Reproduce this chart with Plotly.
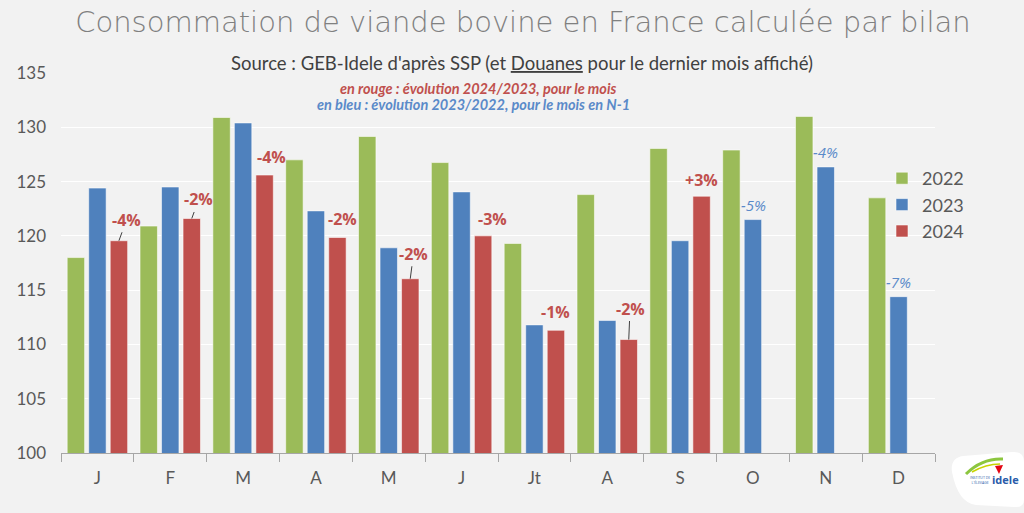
import plotly.graph_objects as go

# ---------------- data ----------------
month_ids = ["jan", "feb", "mar", "apr", "may", "jun", "jul", "aug", "sep", "oct", "nov", "dec"]
month_labels = ["J", "F", "M", "A", "M", "J", "Jt", "A", "S", "O", "N", "D"]
vals_2022 = [118.0, 120.9, 130.9, 127.0, 129.15, 126.75, 119.3, 123.8, 128.05, 127.9, 131.0, 123.5]
vals_2023 = [124.4, 124.5, 130.4, 122.3, 118.9, 124.05, 111.8, 112.2, 119.55, 121.5, 126.35, 114.4]
vals_2024 = [119.55, 121.6, 125.6, 119.85, 116.05, 120.0, 111.3, 110.45, 123.65, None, None, None]
evo_2024 = ["-4%", "-2%", "-4%", "-2%", "-2%", "-3%", "-1%", "-2%", "+3%", None, None, None]
evo_2023 = [None, None, None, None, None, None, None, None, None, "-5%", "-4%", "-7%"]
series_names = ["2022", "2023", "2024"]

# ---------------- styles / layout helpers ----------------
W, H = 1024, 513
L, R, T, B = 61, 89, 73, 60
PW, PH = W - L - R, H - T - B
colors = ["#9bbb59", "#4f81bd", "#c0504d"]
red_txt = "#c0504d"
blue_txt = "#5a8ac9"
bg = "#f2f2f2"
FONT = "Lato"


def px(xp):
    return (xp - L) / PW


def py(yp):
    return (H - B - yp) / PH


def pth(points):
    out = []
    for p in points:
        if isinstance(p, str):
            out.append(p)
        else:
            out.append("{:.5f},{:.5f}".format(px(p[0]), py(p[1])))
    return " ".join(out)


# label offsets (pixels) relative to top of the bar: (dx, dy, leader line?)
red_offsets = [(7.7, -21, True), (7, -19, True), (7.4, -18, False), (5, -18, False),
               (3.3, -25, True), (9.4, -17, False), (0, -18, False), (1.3, -31, True),
               (0.4, -16, False)]
blue_offsets = [(1, -15), (0, -15), (0, -15)]
slot = 21.5  # px between grouped bar centers

fig = go.Figure()
for name, vals, col in zip(series_names, [vals_2022, vals_2023, vals_2024], colors):
    fig.add_trace(go.Bar(
        x=month_ids, y=vals, name=name, legendgroup=name,
        marker=dict(color=col, line=dict(color="rgba(255,255,255,0.55)", width=1)),
        hoverinfo="x+y+name",
    ))

annotations = []
# red labels : evolution 2024/2023
k = 0
for mid, lab, v in zip(month_ids, evo_2024, vals_2024):
    if lab is None or v is None:
        continue
    dx, dy, leader = red_offsets[k]
    k += 1
    annotations.append(dict(
        x=mid, y=v, xref="x", yref="y", xshift=slot, text=lab,
        showarrow=True, arrowhead=0, arrowwidth=1,
        arrowcolor="#404040" if leader else "rgba(0,0,0,0)",
        ax=dx, ay=dy, axref="pixel", ayref="pixel",
        font=dict(family="Open Sans", size=16, color=red_txt, weight="bold"),
    ))
# blue labels : evolution 2023/2022
k = 0
for mid, lab, v in zip(month_ids, evo_2023, vals_2023):
    if lab is None:
        continue
    dx, dy = blue_offsets[k]
    k += 1
    annotations.append(dict(
        x=mid, y=v, xref="x", yref="y", xshift=dx, yshift=-dy, text="<i>" + lab + "</i>",
        showarrow=False, xanchor="center", yanchor="middle",
        font=dict(family="Open Sans", size=15, color=blue_txt),
    ))

# subtitle and explanation lines
annotations.append(dict(
    x=px(522), y=py(63), xref="paper", yref="paper", showarrow=False,
    xanchor="center", yanchor="middle",
    text="Source : GEB-Idele d'après SSP (et <u>Douanes</u> pour le dernier mois affiché)",
    font=dict(family=FONT, size=18.5, color="#404040"),
))
annotations.append(dict(
    x=px(478), y=py(88), xref="paper", yref="paper", showarrow=False,
    xanchor="center", yanchor="middle",
    text="<b><i>en rouge : évolution 2024/2023, pour le mois</i></b>",
    font=dict(family=FONT, size=14.5, color=red_txt),
))
annotations.append(dict(
    x=px(473), y=py(104), xref="paper", yref="paper", showarrow=False,
    xanchor="center", yanchor="middle",
    text="<b><i>en bleu : évolution 2023/2022, pour le mois en N-1</i></b>",
    font=dict(family=FONT, size=14.5, color=blue_txt),
))
# logo text
annotations.append(dict(
    x=px(1006), y=py(480), xref="paper", yref="paper", showarrow=False,
    xanchor="center", yanchor="middle",
    text="<b>idele</b>", font=dict(family="Open Sans", size=11, color="#2a5caa"),
))
annotations.append(dict(
    x=px(980), y=py(480), xref="paper", yref="paper", showarrow=False,
    xanchor="center", yanchor="middle",
    text="INSTITUT DE<br>L'ÉLEVAGE", font=dict(family="Open Sans", size=3.5, color="#2a5caa"),
))

shapes = [
    # white logo badge
    dict(type="path", xref="paper", yref="paper", layer="above",
         path=pth(["M", (952, 472), "Q", (950, 458), (963, 456), "L", (1012, 452), "Q", (1024, 451),
                   (1024, 462), "L", (1024, 500), "Q", (1024, 508), (1014, 507), "L", (976, 505),
                   "Q", (958, 503), (952, 472), "Z"]),
         fillcolor="white", line=dict(width=0)),
    dict(type="path", xref="paper", yref="paper", layer="above",
         path=pth(["M", (966, 474), "Q", (982, 458), (1003, 459)]),
         line=dict(color="#8cc63f", width=3)),
    dict(type="path", xref="paper", yref="paper", layer="above",
         path=pth(["M", (972, 472), "Q", (986, 464), (1000, 464)]),
         line=dict(color="#c8d400", width=1.5)),
    dict(type="path", xref="paper", yref="paper", layer="above",
         path=pth(["M", (995, 466), "L", (1003, 465), "L", (999, 474), "Z"]),
         fillcolor="#e30613", line=dict(width=0)),
]

fig.update_layout(
    width=W, height=H,
    margin=dict(l=L, r=R, t=T, b=B, pad=0),
    paper_bgcolor=bg, plot_bgcolor=bg,
    barmode="group", bargap=0.114, bargroupgap=0.19,
    title=dict(
        text="Consommation de viande bovine en France calculée par bilan",
        x=523 / W, xref="container", xanchor="center",
        y=1 - 22 / H, yref="container", yanchor="middle",
        font=dict(family="DejaVu Sans", size=29, color="#808080", weight=200),
    ),
    xaxis=dict(
        type="category", categoryorder="array", categoryarray=month_ids,
        tickmode="array", tickvals=month_ids, ticktext=month_labels,
        tickson="boundaries", ticks="outside", ticklen=8, tickcolor="#a6a6a6",
        showline=True, linecolor="#a6a6a6", linewidth=1,
        showgrid=False, zeroline=False,
        tickfont=dict(family=FONT, size=17, color="#595959"),
        ticklabelstandoff=10,
    ),
    yaxis=dict(
        range=[100, 135], dtick=5, tick0=100,
        showgrid=True, gridcolor="#ffffff", gridwidth=1,
        zeroline=False, showline=False, ticks="",
        tickfont=dict(family=FONT, size=17, color="#595959"),
        ticklabelstandoff=14,
    ),
    legend=dict(
        x=px(882), y=py(160), xanchor="left", yanchor="top",
        bgcolor="rgba(0,0,0,0)", tracegroupgap=0,
        font=dict(family=FONT, size=18, color="#595959"),
    ),
    annotations=annotations,
    shapes=shapes,
    showlegend=True,
)

fig.write_html("out.html")
